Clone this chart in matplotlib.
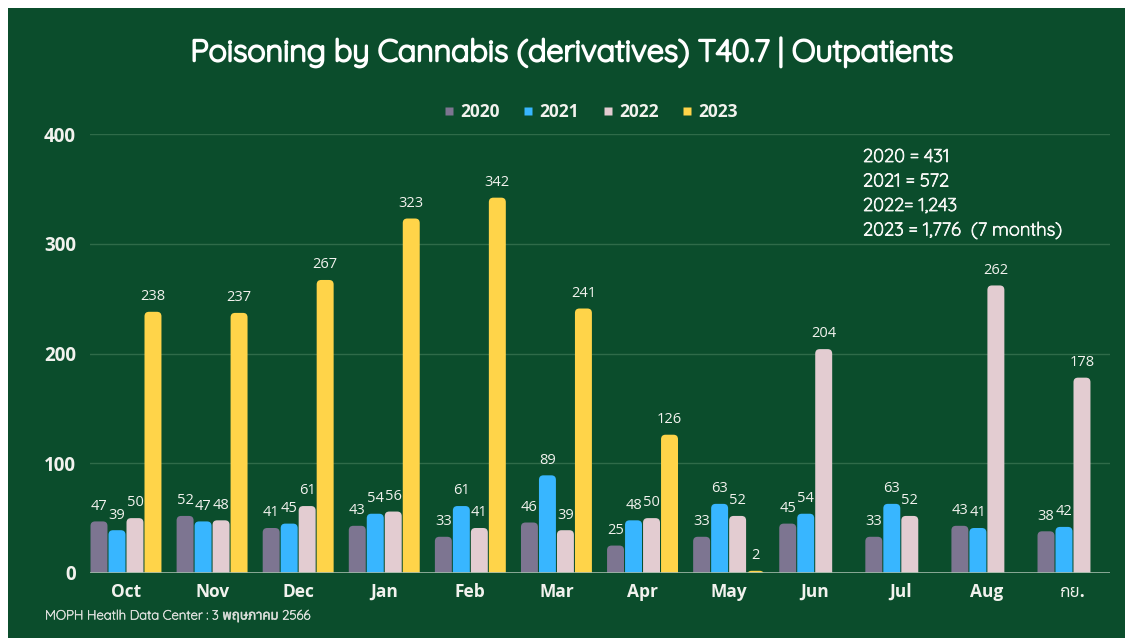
import matplotlib
matplotlib.use("Agg")
import matplotlib.pyplot as plt
import matplotlib.patheffects as pe
from matplotlib.patches import FancyBboxPatch, Rectangle
from matplotlib.lines import Line2D

months = ["Oct", "Nov", "Dec", "Jan", "Feb", "Mar", "Apr", "May", "Jun", "Jul", "Aug", "กย."]
years = ["2020", "2021", "2022", "2023"]
v2020 = [47, 52, 41, 43, 33, 46, 25, 33, 45, 33, 43, 38]
v2021 = [39, 47, 45, 54, 61, 89, 48, 63, 54, 63, 41, 42]
v2022 = [50, 48, 61, 56, 41, 39, 50, 52, 204, 52, 262, 178]
v2023 = [238, 237, 267, 323, 342, 241, 126, 2, None, None, None, None]
series = [v2020, v2021, v2022, v2023]
colors = ["#7d7591", "#38b6ff", "#e3ccd1", "#ffd449"]
totals = ["2020 = 431", "2021 = 572", "2022= 1,243", "2023 = 1,776  (7 months)"]

BG = "#0b4d2c"
TXT = "#f2f2ee"
SANS = ["Open Sans", "Anuphan", "DejaVu Sans"]
ROUND = ["Quicksand", "Lato", "Anuphan"]


def heavier(w):
    return [pe.withStroke(linewidth=w, foreground="white")]


fig = plt.figure(figsize=(11.25, 6.38), dpi=100, facecolor="white")
# dark panel (leaves a thin white edge at top/left)
panel = Rectangle((8 / 1125, 0), 1, (638 - 8) / 638, transform=fig.transFigure,
                  facecolor=BG, edgecolor="none", zorder=-10)
fig.add_artist(panel)

ax = fig.add_axes([90 / 1125, (638 - 573) / 638, 1020 / 1125, (573 - 134) / 638])
ax.set_zorder(1)
ax.set_facecolor("none")
ax.set_xlim(-0.418, 11.43)
ax.set_ylim(0, 400)

for s in ax.spines.values():
    s.set_visible(False)
ax.axhline(0, color="#9fb9a8", lw=1.2, zorder=3)
for y in [100, 200, 300, 400]:
    ax.axhline(y, color="#2f6b49", lw=1.0, zorder=0)

ax.set_yticks([0, 100, 200, 300, 400])
ax.set_yticklabels(["0", "100", "200", "300", "400"], fontsize=13.5, fontweight="bold",
                   color=TXT, family=SANS)
ax.set_xticks(range(len(months)))
ax.set_xticklabels(months, fontsize=12.5, fontweight="bold", color=TXT, family=SANS)
ax.tick_params(length=0)
ax.tick_params(axis="y", pad=10)
ax.tick_params(axis="x", pad=7)

step = 0.209
width = 0.197
# pixel scale of the axes, used to keep the corner radius round
xpp = (11.43 + 0.418) / 1020
ypp = 400 / 439
r = 4.5 * xpp
for k, (vals, col) in enumerate(zip(series, colors)):
    off = (k - 1.5) * step
    for i, v in enumerate(vals):
        if v is None:
            continue
        x0 = i + off - width / 2
        patch = FancyBboxPatch((x0, -8), width, v + 8,
                               boxstyle=f"round,pad=0,rounding_size={r}",
                               mutation_aspect=ypp / xpp,
                               facecolor=col, edgecolor="none", zorder=2,
                               clip_on=True)
        ax.add_patch(patch)
        ax.text(i + off, v + 7, str(v), ha="center", va="bottom", fontsize=10.5,
                color=TXT, family=SANS, zorder=4)

fig.text(572 / 1125, 1 - 52 / 638, "Poisoning by Cannabis (derivatives) T40.7 | Outpatients",
         ha="center", va="center", fontsize=22, color="white", family=ROUND,
         path_effects=heavier(1.5))

handles = [Line2D([], [], marker="s", ls="none", markersize=5.5, markerfacecolor=c,
                  markeredgecolor="none") for c in colors]
leg = fig.legend(handles, years, loc="center", bbox_to_anchor=(589 / 1125, 1 - 112 / 638),
                 ncol=4, frameon=False, handletextpad=0.15, columnspacing=1.15,
                 handlelength=1.0,
                 prop={"family": SANS, "weight": "bold", "size": 12.5})
for t in leg.get_texts():
    t.set_color(TXT)

for j, line in enumerate(totals):
    fig.text(863 / 1125, 1 - (157 + j * 24.5) / 638, line, ha="left", va="center",
             fontsize=13.3, color=TXT, family=ROUND, path_effects=heavier(0.6))

fig.text(45 / 1125, 1 - 616 / 638, "MOPH Heatlh Data Center : 3 พฤษภาคม 2566",
         ha="left", va="center", fontsize=9.5, color="#d8dcd8", family=ROUND,
         path_effects=[pe.withStroke(linewidth=0.4, foreground="#d8dcd8")])

fig.savefig("out.png", dpi=100, facecolor="white")
